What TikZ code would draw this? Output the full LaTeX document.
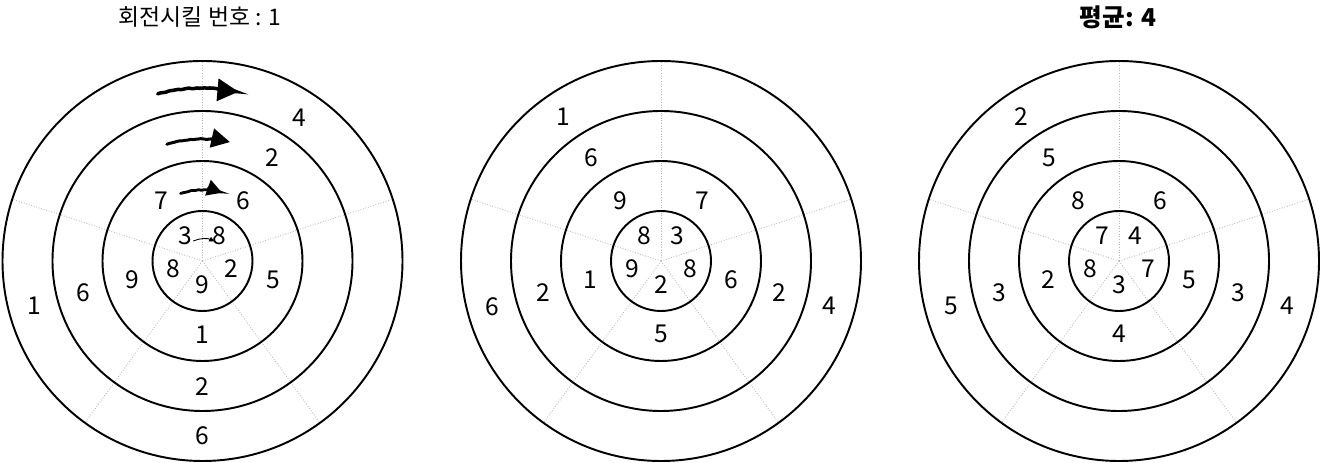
\documentclass[tikz,border=0pt]{standalone}
\usepackage{fontspec}
\setmainfont{Noto Sans CJK KR}
\usetikzlibrary{arrows.meta,decorations.pathmorphing}

\begin{document}
\begin{tikzpicture}[x=0.02cm, y=0.02cm,
        ring/.style = {line width=1.1pt},
        spoke/.style = {gray!55, densely dotted, line width=0.5pt},
        num/.style = {font=\fontsize{14}{16}\selectfont, inner sep=0pt},
        heading/.style = {font=\fontsize{13}{15}\selectfont, inner sep=0pt},
        chalk/.style = {line width=#1, line cap=round, decorate,
            decoration={random steps, segment length=1.5pt, amplitude=0.2pt}}]
    \useasboundingbox (0,0) rectangle (1322,463);

    % three targets
    \coordinate (c1) at (202.5,202);
    \coordinate (c2) at (661,202);
    \coordinate (c3) at (1119,202);

    \foreach \c in {c1,c2,c3}
    {
        \foreach \a in {18,90,162,234,306}
            \draw[spoke] (\c) -- ++(\a:200);
        \foreach \r in {50,100,150,200}
            \draw[ring] (\c) circle[radius=\r];
    }

    % titles
    \node[heading] (title1) at (200,446) {회전시킬 번호 : 1};
    \node[heading, font=\fontsize{14}{16}\selectfont\bfseries] (title3) at (1118,446) {평균: 4};

    % numbers
    \foreach \a/\r/\t [count=\k] in {124/30/3, 56/30/8, -15/30/2, 270/24/9, 195/30/8,
            124/73/7, 56/73/6, -15/73/5, 270/74/1, 195/73/9,
            56/125/2, 270/126/2, 195/123/6,
            56/173/4, 270/175/6, 195/174/1}
        \node[num] (a\k) at ([shift={(\a:\r)}]c1) {\t};
    \foreach \a/\r/\t [count=\k] in {124/30/8, 56/30/3, -15/30/8, 270/24/2, 195/30/9,
            124/73/9, 56/73/7, -15/73/6, 270/73/5, 195/73/1,
            124/125/6, -15/122/2, 195/122/2,
            124/174/1, -15/174/4, 195/175/6}
        \node[num] (b\k) at ([shift={(\a:\r)}]c2) {\t};
    \foreach \a/\r/\t [count=\k] in {124/30/7, 56/30/4, -15/30/7, 270/24/3, 195/30/8,
            124/73/8, 56/73/6, -15/73/5, 270/73/4, 195/73/2,
            124/124/5, -15/124/3, 195/124/3,
            124/174/2, -15/174/4, 195/174/5}
        \node[num] (m\k) at ([shift={(\a:\r)}]c3) {\t};

    % rotation marks
    \draw[chalk=2pt, -{Triangle[length=0.42cm, width=0.44cm]}]
        ([shift={(105:173)}]c1) arc[start angle=105, end angle=78, radius=173];
    \draw[chalk=1.7pt, -{Triangle[length=0.37cm, width=0.38cm]}]
        ([shift={(107:122)}]c1) arc[start angle=107, end angle=77, radius=122];
    \draw[chalk=1.6pt, -{Triangle[length=0.3cm, width=0.32cm]}]
        ([shift={(108:71)}]c1) arc[start angle=108, end angle=74, radius=71];
    \draw[line width=0.5pt, -{Triangle[length=0.1cm, width=0.1cm]}]
        ([shift={(115:22)}]c1) arc[start angle=115, end angle=63, radius=24];
\end{tikzpicture}
\end{document}
